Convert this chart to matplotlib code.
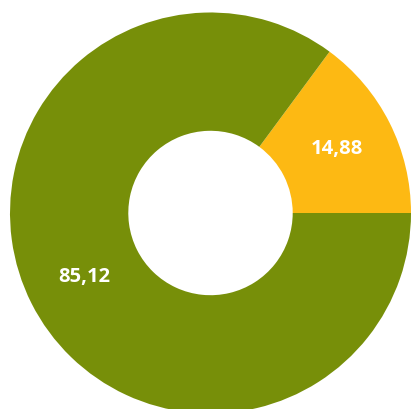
import matplotlib
matplotlib.use("Agg")
import matplotlib.pyplot as plt

categories = ["Yellow", "Green"]
values = [14.88, 85.12]
colors = ["#FDB913", "#778F09"]
labels = [f"{v:.2f}".replace(".", ",") for v in values]

W, H = 412, 409
fig = plt.figure(figsize=(W / 100, H / 100), dpi=100)
ax = fig.add_axes([0, 0, 1, 1])

cx, cy, r = 210.5, 213.0, 200.5
wedges, texts = ax.pie(
    values, colors=colors, startangle=0, counterclock=True,
    radius=1.0, labels=labels, labeldistance=0.705,
    wedgeprops=dict(width=0.59, linewidth=0),
    textprops=dict(color="white", fontsize=14.5, fontweight="bold",
                   family=["Open Sans", "DejaVu Sans"], ha="center", va="center"),
)
for t in texts:
    t.set_horizontalalignment("center")
    t.set_verticalalignment("center")

ax.set_xlim(-cx / r, (W - cx) / r)
ax.set_ylim(-(H - cy) / r, cy / r)
ax.set_aspect("auto")
ax.axis("off")
fig.savefig("out.png", dpi=100)
